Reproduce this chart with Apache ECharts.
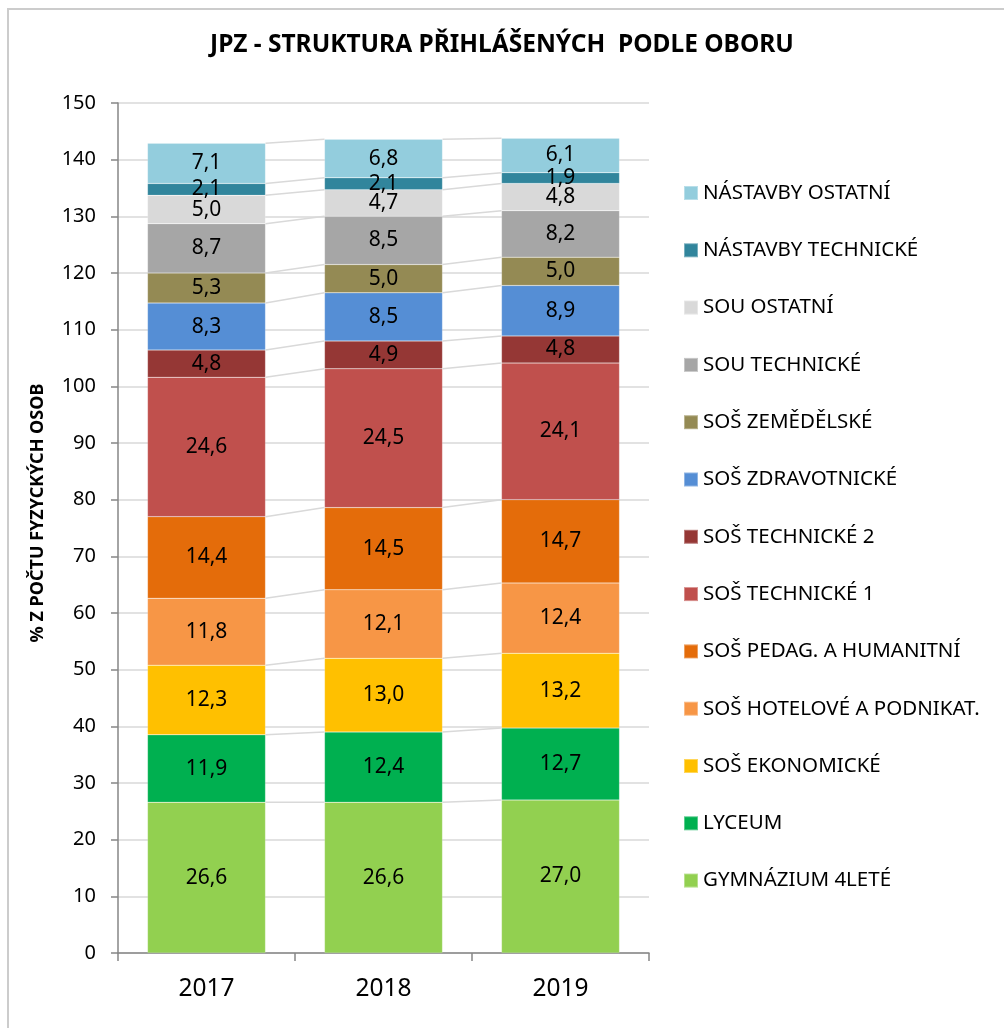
<!DOCTYPE html>
<html>
<head>
<meta charset="utf-8">
<script src="https://cdn.jsdelivr.net/npm/echarts@6/dist/echarts.min.js"></script>
<style>
html,body{margin:0;padding:0;background:#fff;}
#chart{width:1004px;height:1028px;}
</style>
</head>
<body>
<div id="chart"></div>
<script>
// Data (bottom to top of stack)
const years = ['2017', '2018', '2019'];
const seriesNames = [
  'GYMNÁZIUM 4LETÉ', 'LYCEUM', 'SOŠ EKONOMICKÉ', 'SOŠ HOTELOVÉ A PODNIKAT.',
  'SOŠ PEDAG. A HUMANITNÍ', 'SOŠ TECHNICKÉ 1', 'SOŠ TECHNICKÉ 2', 'SOŠ ZDRAVOTNICKÉ',
  'SOŠ ZEMĚDĚLSKÉ', 'SOU TECHNICKÉ', 'SOU OSTATNÍ', 'NÁSTAVBY TECHNICKÉ', 'NÁSTAVBY OSTATNÍ'
];
const gymnazium = [26.6, 26.6, 27.0];
const lyceum = [11.9, 12.4, 12.7];
const ekonomicke = [12.3, 13.0, 13.2];
const hotelove = [11.8, 12.1, 12.4];
const pedag = [14.4, 14.5, 14.7];
const technicke1 = [24.6, 24.5, 24.1];
const technicke2 = [4.8, 4.9, 4.8];
const zdravotnicke = [8.3, 8.5, 8.9];
const zemedelske = [5.3, 5.0, 5.0];
const souTechnicke = [8.7, 8.5, 8.2];
const souOstatni = [5.0, 4.7, 4.8];
const nastavbyTechnicke = [2.1, 2.1, 1.9];
const nastavbyOstatni = [7.1, 6.8, 6.1];
const yTicks = [0, 150, 10]; // min, max, interval

const values = [gymnazium, lyceum, ekonomicke, hotelove, pedag, technicke1, technicke2,
  zdravotnicke, zemedelske, souTechnicke, souOstatni, nastavbyTechnicke, nastavbyOstatni];
const colors = ['#92d050', '#00b050', '#ffc000', '#f79646', '#e46c0a', '#c0504d', '#953735',
  '#558ed5', '#948a54', '#a6a6a6', '#d9d9d9', '#31859c', '#93cddd'];

// cumulative tops for series lines
function cumTop(k, i) {
  let s = 0;
  for (let j = 0; j <= k; j++) s += values[j][i];
  return s;
}

const FONT = 'Noto Sans';
const barGapFrac = 1 / 3;

const series = seriesNames.map((name, k) => ({
  name: name,
  type: 'bar',
  stack: 'total',
  barCategoryGap: '33.33%',
  data: values[k],
  itemStyle: { color: colors[k], borderColor: 'rgba(255,255,255,0.35)', borderWidth: 0.5 },
  label: {
    show: true,
    position: 'inside',
    color: '#000',
    fontFamily: FONT,
    fontSize: 21,
    formatter: p => p.value.toFixed(1).replace('.', ',')
  },
  emphasis: { disabled: true }
}));

const lineData = [];
for (let k = 0; k < values.length; k++) {
  for (let i = 0; i < years.length - 1; i++) lineData.push([i, k]);
}
series.push({
  type: 'custom',
  name: 'series-lines',
  z: 5,
  silent: true,
  encode: { x: 0, y: -1 },
  data: lineData,
  renderItem: function (params, api) {
    const i = api.value(0), k = api.value(1);
    const band = api.size([1, 0])[0];
    const half = band * (1 - barGapFrac) / 2;
    const p1 = api.coord([i, cumTop(k, i)]);
    const p2 = api.coord([i + 1, cumTop(k, i + 1)]);
    return {
      type: 'line',
      shape: { x1: p1[0] + half, y1: p1[1], x2: p2[0] - half, y2: p2[1] },
      style: { stroke: '#d9d9d9', lineWidth: 1.5 }
    };
  }
});

const chart = echarts.init(document.getElementById('chart'), null, { renderer: 'canvas' });
chart.setOption({
  animation: false,
  backgroundColor: '#fff',
  title: {
    text: 'JPZ - STRUKTURA PŘIHLÁŠENÝCH  PODLE OBORU',
    left: 'center',
    top: 28,
    padding: [5, 5, 5, 21],
    textStyle: { fontFamily: FONT, fontSize: 24.5, fontWeight: 'bold', color: '#000' }
  },
  legend: {
    orient: 'vertical',
    left: 678,
    top: 177,
    itemWidth: 14,
    itemHeight: 14,
    itemGap: 35.3,
    icon: 'rect',
    data: seriesNames.slice().reverse(),
    textStyle: { fontFamily: FONT, fontSize: 20.5, color: '#000', lineHeight: 22 },
    selectedMode: false
  },
  grid: { left: 118, right: 355, top: 103, bottom: 75, containLabel: false },
  xAxis: {
    type: 'category',
    data: years,
    axisLine: { lineStyle: { color: '#868686', width: 1.5 } },
    axisTick: { show: true, length: 8, lineStyle: { color: '#868686', width: 1.5 } },
    axisLabel: { fontFamily: FONT, fontSize: 24.5, color: '#000', margin: 24 }
  },
  yAxis: {
    type: 'value',
    min: yTicks[0],
    max: yTicks[1],
    interval: yTicks[2],
    axisLine: { show: true, lineStyle: { color: '#868686', width: 1.5 } },
    axisTick: { show: true, length: 7, lineStyle: { color: '#868686', width: 1.5 } },
    axisLabel: { fontFamily: FONT, fontSize: 20, color: '#000', margin: 22 },
    splitLine: { lineStyle: { color: '#d9d9d9', width: 1.5 } }
  },
  graphic: [{
    type: 'rect',
    silent: true,
    shape: { x: 8, y: 9, width: 1100, height: 1100 },
    style: { fill: 'none', stroke: '#cccccc', lineWidth: 2 }
  }, {
    type: 'text',
    silent: true,
    x: 38,
    y: 513,
    rotation: Math.PI / 2,
    style: {
      text: '% Z POČTU FYZYCKÝCH OSOB',
      fontFamily: FONT,
      fontSize: 18,
      fontWeight: 'bold',
      fill: '#000',
      align: 'center',
      verticalAlign: 'middle'
    }
  }],
  series: series
});
</script>
</body>
</html>
